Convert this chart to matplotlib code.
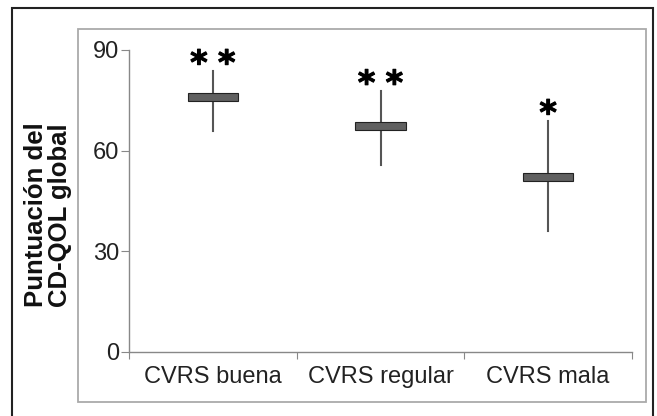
import numpy as np
import matplotlib.pyplot as plt
import matplotlib.patheffects as pe
from matplotlib.patches import Rectangle

# data
categories = ['CVRS buena', 'CVRS regular', 'CVRS mala']
box_low = [74.8, 66.1, 51.1]
box_high = [77.2, 68.5, 53.2]
whisk_low = [65.8, 55.6, 36.2]
whisk_high = [83.7, 77.7, 68.8]
n_stars = [2, 2, 1]
y_ticks = [0, 30, 60, 90]

plt.rcParams['font.family'] = ['Liberation Sans', 'DejaVu Sans']

fig = plt.figure(figsize=(6.57, 4.16), dpi=100)

# outer black frame and inner grey frame
fig.patches.append(Rectangle((12 / 657, -0.01), 641 / 657, 1 - 8 / 416 + 0.01,
                             transform=fig.transFigure, fill=False,
                             edgecolor='#222222', lw=1.5))
fig.patches.append(Rectangle((78 / 657, 1 - 402 / 416), 568 / 657, 373 / 416,
                             transform=fig.transFigure, fill=False,
                             edgecolor='#aaaaaa', lw=1.3))

ax = fig.add_axes([129 / 657, 1 - 352 / 416, 503 / 657, 302 / 416])

x_pos = np.arange(len(categories)) + 0.5
box_w = 0.30

for i in range(len(categories)):
    x = x_pos[i]
    ax.plot([x, x], [whisk_low[i], whisk_high[i]], color='#555555', lw=1.5,
            zorder=2)
    ax.add_patch(Rectangle((x - box_w / 2, box_low[i]), box_w,
                           box_high[i] - box_low[i], facecolor='#606060',
                           edgecolor='#222222', lw=0.8, zorder=3))
    # significance stars, one text each so the gap can be set
    if n_stars[i] == 2:
        offs = [-10, 10]
    else:
        offs = [0]
    for dx in offs:
        ax.annotate('*', (x, whisk_high[i]), xytext=(dx, -2),
                    textcoords='offset points', ha='center', va='baseline',
                    fontsize=24, fontweight='bold', color='black',
                    family='DejaVu Sans',
                    path_effects=[pe.withStroke(linewidth=0.8,
                                                foreground='black')])

ax.set_xlim(0, 3)
ax.set_ylim(0, 90)
ax.set_yticks(y_ticks)
ax.set_xticks([0, 1, 2, 3])
ax.set_xticklabels([])
ax.set_xticks(x_pos, minor=True)
ax.set_xticklabels(categories, minor=True)
ax.tick_params(axis='x', which='minor', length=0, pad=10, labelsize=17,
               labelcolor='#222222')
ax.tick_params(axis='x', which='major', length=5, color='#888888',
               direction='out')
ax.tick_params(axis='y', length=6, color='#888888', labelsize=17,
               labelcolor='#222222', pad=1)

for s in ['top', 'right']:
    ax.spines[s].set_visible(False)
for s in ['left', 'bottom']:
    ax.spines[s].set_color('#888888')
    ax.spines[s].set_linewidth(1.0)

fig.text(48 / 657, 1 - 215 / 416, 'Puntuación del\nCD-QOL global',
         rotation=90, ha='center', va='center', fontsize=18.5,
         fontweight='bold', linespacing=0.95, color='#111111')

fig.savefig('out.png', dpi=100)
